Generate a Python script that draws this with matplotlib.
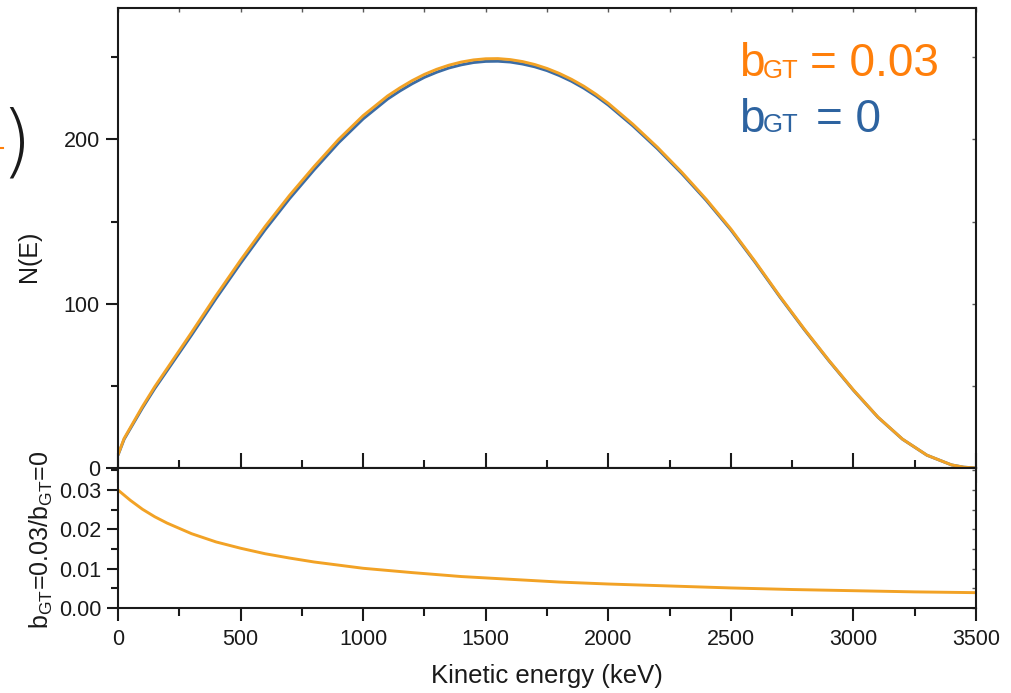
import matplotlib

matplotlib.use("Agg")
import matplotlib.pyplot as plt
from matplotlib.lines import Line2D
from matplotlib.ticker import MultipleLocator

plt.rcParams["font.family"] = ["Liberation Sans", "DejaVu Sans"]
plt.rcParams["mathtext.fontset"] = "custom"
plt.rcParams["mathtext.rm"] = "Liberation Sans"

# --- beta spectrum, with and without the Fierz-like b_GT term ---------------
energy_kev = [0, 25, 50, 100, 150, 200, 300, 400, 500, 600, 700, 800, 900,
              1000, 1100, 1150, 1200, 1250, 1300, 1350, 1400, 1450, 1500,
              1550, 1600, 1650, 1700, 1750, 1800, 1850, 1900, 1950, 2000,
              2100, 2200, 2300, 2400, 2500, 2600, 2700, 2800, 2900,
              3000, 3100, 3200, 3300, 3400, 3450, 3500]
n_bgt_003 = [8.0, 18.0, 24.5, 37.5, 49.5, 60.5, 82.5, 105.0, 126.5, 147.0,
             166.0, 183.5, 200.0, 214.5, 226.5, 231.4, 235.8, 239.6, 242.7,
             245.2, 247.1, 248.4, 249.1, 249.2, 248.6, 247.4, 245.6, 243.2,
             240.2, 236.6, 232.4, 227.5, 222.0, 209.3, 195.3, 180.0, 163.5,
             145.5, 125.5, 104.5, 84.5, 65.5, 47.5, 31.0, 17.6, 7.8, 1.9,
             0.5, 0.0]
n_bgt_0 = [7.8, 17.5, 23.9, 36.6, 48.4, 59.2, 80.9, 103.2, 124.6, 145.0,
           164.0, 181.5, 198.0, 212.5, 224.6, 229.5, 233.9, 237.8, 240.9,
           243.5, 245.4, 246.8, 247.5, 247.6, 247.1, 245.9, 244.2, 241.9,
           238.9, 235.4, 231.2, 226.4, 220.9, 208.3, 194.4, 179.2, 162.8,
           144.9, 125.0, 104.1, 84.15, 65.25, 47.3, 30.9, 17.53, 7.77, 1.89,
           0.5, 0.0]

# relative size of the b_GT term vs energy
ratio_energy_kev = [0, 50, 100, 150, 200, 300, 400, 500, 600, 700, 800, 900,
                    1000, 1200, 1400, 1600, 1800, 2000, 2250, 2500, 2750,
                    3000, 3250, 3500]
ratio = [0.0300, 0.0274, 0.0251, 0.0232, 0.0216, 0.0189, 0.0168, 0.0152,
         0.0138, 0.0127, 0.0117, 0.0109, 0.0101, 0.0090, 0.0080, 0.0073,
         0.0066, 0.0061, 0.0056, 0.0051, 0.0047, 0.0044, 0.0041, 0.0039]

ORANGE_LINE = "#f2a225"
BLUE_LINE = "#3b6ca5"
ORANGE_TEXT = "#ff7f0a"
BLUE_TEXT = "#2d63a0"
INK = "#1a1a1a"

W, H = 1011, 693


def fx(px):
    return px / W


def fy(py):
    return 1 - py / H


fig = plt.figure(figsize=(W / 100, H / 100), dpi=100)
ax = fig.add_axes([fx(118), fy(468), (976 - 118) / W, 460 / H])
axr = fig.add_axes([fx(118), fy(608), (976 - 118) / W, 140 / H], sharex=ax)

line_kw = dict(lw=2.1, solid_joinstyle="round", solid_capstyle="round")
ax.plot(energy_kev, n_bgt_0, color=BLUE_LINE, **line_kw)
ax.plot(energy_kev, n_bgt_003, color=ORANGE_LINE, **line_kw)
axr.plot(ratio_energy_kev, ratio, color=ORANGE_LINE, **line_kw)

ax.set_xlim(0, 3500)
ax.set_ylim(0, 280)
axr.set_ylim(0, 0.0356)

for a in (ax, axr):
    for sp in a.spines.values():
        sp.set_linewidth(1.5)
        sp.set_color(INK)

# main panel: outward y ticks, ticks straddling the shared x line
ax.yaxis.set_major_locator(MultipleLocator(100))
ax.yaxis.set_minor_locator(MultipleLocator(50))
ax.xaxis.set_major_locator(MultipleLocator(500))
ax.xaxis.set_minor_locator(MultipleLocator(250))
ax.tick_params(axis="y", which="major", direction="out", length=9, width=1.5,
               labelsize=15.5, pad=4, colors=INK)
ax.tick_params(axis="y", which="minor", direction="out", length=5, width=1.5,
               colors=INK)
ax.tick_params(axis="x", which="major", direction="inout", length=21, width=1.5,
               labelbottom=False, colors=INK)
ax.tick_params(axis="x", which="minor", direction="inout", length=11, width=1.5,
               colors=INK)

top = ax.secondary_xaxis("top")
top.xaxis.set_major_locator(MultipleLocator(250))
top.tick_params(direction="in", length=3, width=1, labeltop=False, colors="0.35")
top.spines["top"].set_visible(False)
right = ax.secondary_yaxis("right")
right.yaxis.set_major_locator(MultipleLocator(50))
right.tick_params(direction="in", length=3, width=1, labelright=False, colors="0.35")
right.spines["right"].set_visible(False)

# ratio panel
axr.yaxis.set_major_locator(MultipleLocator(0.01))
axr.yaxis.set_minor_locator(MultipleLocator(0.005))
axr.yaxis.set_major_formatter("{x:.2f}")
axr.tick_params(axis="y", which="major", direction="out", length=8, width=1.5,
                labelsize=15.5, pad=4, colors=INK)
axr.tick_params(axis="y", which="minor", direction="out", length=5, width=1.5,
                colors=INK)
axr.tick_params(axis="x", which="major", direction="out", length=9, width=1.5,
                labelsize=15.5, pad=6, colors=INK)
axr.tick_params(axis="x", which="minor", direction="out", length=6, width=1.5,
                colors=INK)
rright = axr.secondary_yaxis("right")
rright.yaxis.set_major_locator(MultipleLocator(0.005))
rright.tick_params(direction="in", length=3, width=1, labelright=False, colors="0.35")
rright.spines["right"].set_visible(False)

# axis labels
fig.text(fx(29), fy(256), "N(E)", rotation=90, ha="center", va="center",
         fontsize=18, color=INK)
fig.text(fx(41), fy(540), r"b$_\mathregular{GT}$=0.03/b$_\mathregular{GT}$=0",
         rotation=90, ha="center", va="center", fontsize=18, color=INK)
fig.text(fx(547), fy(676), "Kinetic energy (keV)", ha="center", va="center",
         fontsize=18.5, color=INK)

# series key, written in the series colours
for label, colour, base, eq_x in (("= 0.03", ORANGE_TEXT, 76.5, 810),
                                  ("= 0", BLUE_TEXT, 131.5, 816)):
    fig.text(fx(739), fy(base), "b", fontsize=33, color=colour, va="baseline")
    fig.text(fx(763), fy(base + 1), "GT", fontsize=18.5, color=colour, va="baseline")
    fig.text(fx(eq_x), fy(base), label, fontsize=33, color=colour, va="baseline")

# edge of the neighbouring formula
fig.text(fx(16), fy(145), ")", fontsize=58, color=INK, ha="center",
         va="center", family=["DejaVu Sans"], weight="ultralight")
fig.add_artist(Line2D([fx(0), fx(3)], [fy(148), fy(148)], color=ORANGE_TEXT,
                      lw=1.5, transform=fig.transFigure))

fig.savefig("out.png", dpi=100)
